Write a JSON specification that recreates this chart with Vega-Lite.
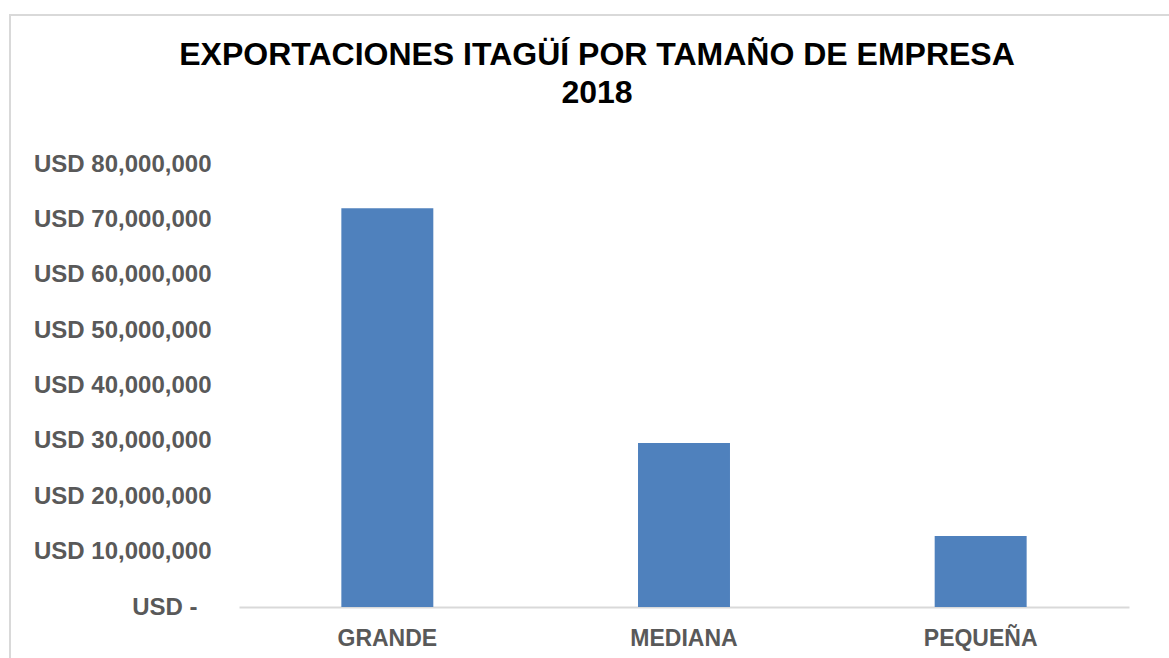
{
  "$schema": "https://vega.github.io/schema/vega-lite/v6.json",
  "width": 1170,
  "height": 653,
  "autosize": {"type": "none"},
  "padding": {"left": 10, "top": 15, "right": 0, "bottom": 0},
  "background": "white",
  "title": {
    "text": ["EXPORTACIONES ITAGÜÍ POR TAMAÑO DE EMPRESA", "2018"],
    "font": "Liberation Sans",
    "fontSize": 32,
    "fontWeight": "bold",
    "color": "#000000",
    "anchor": "middle",
    "frame": "group",
    "lineHeight": 38,
    "offset": 0,
    "dx": 2,
    "dy": 95,
    "baseline": "top"
  },
  "data": {
    "values": [
      {"tamano": "GRANDE", "valor": 72000000},
      {"tamano": "MEDIANA", "valor": 29600000},
      {"tamano": "PEQUEÑA", "valor": 12800000}
    ]
  },
  "mark": {"type": "bar", "color": "#4f81bd"},
  "encoding": {
    "x": {
      "field": "tamano",
      "type": "nominal",
      "sort": null,
      "scale": {"range": [229, 1119], "paddingInner": 0.69, "paddingOuter": 0.345},
      "axis": {
        "orient": "bottom",
        "offset": -61,
        "title": null,
        "domainColor": "#d9d9d9",
        "domainWidth": 2,
        "ticks": false,
        "tickSize": 0,
        "labelPadding": 20,
        "labelAngle": 0,
        "labelFont": "Liberation Sans",
        "labelFontSize": 23,
        "labelFontWeight": "bold",
        "labelColor": "#595959",
        "grid": false
      }
    },
    "y": {
      "field": "valor",
      "type": "quantitative",
      "scale": {"domain": [0, 80000000], "range": [592, 149], "nice": false, "zero": true},
      "axis": {
        "orient": "left",
        "offset": -201,
        "title": null,
        "domain": false,
        "ticks": false,
        "tickSize": 0,
        "grid": false,
        "labelPadding": {"condition": {"test": "datum.value == 0", "value": 14}, "value": 0},
        "labelFont": "Liberation Sans",
        "labelFontSize": 24,
        "labelFontWeight": "bold",
        "labelColor": "#595959",
        "labelOverlap": false,
        "labelFlush": false,
        "labelBound": false,
        "values": [0, 10000000, 20000000, 30000000, 40000000, 50000000, 60000000, 70000000, 80000000],
        "labelExpr": "datum.value == 0 ? 'USD -' : 'USD ' + format(datum.value, ',')"
      }
    }
  },
  "config": {"view": {"stroke": "#d9d9d9", "strokeWidth": 2}}
}
